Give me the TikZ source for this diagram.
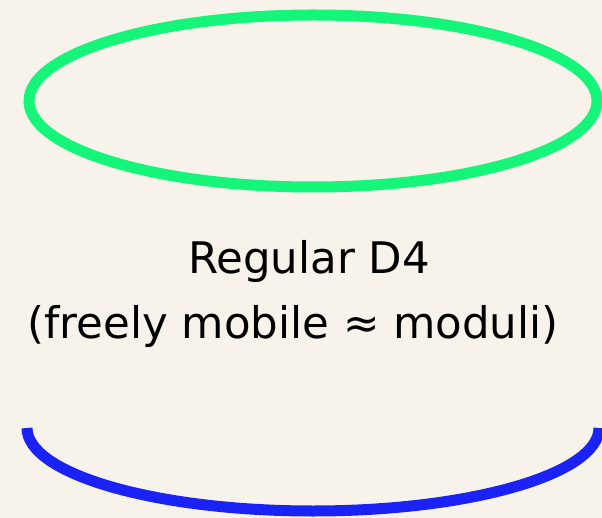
\documentclass[tikz,border=0pt]{standalone}
\usepackage{fontspec}
\setmainfont{DejaVu Sans}
\definecolor{bgc}{HTML}{F7F3EA}
\definecolor{topc}{HTML}{14F57A}
\definecolor{botc}{HTML}{1A22F5}
\begin{document}
\begin{tikzpicture}[x=1pt,y=-1pt,
  rim/.style={line width=11pt},
  lbl/.style={anchor=base,inner sep=0pt,font=\fontsize{43.5}{52}\selectfont}]
\fill[bgc] (0,0) rectangle (602,518);
\useasboundingbox (0,0) rectangle (602,518);
\draw[rim,topc] (313,101) ellipse [x radius=284, y radius=86];
\draw[rim,botc] (27,428) arc[start angle=180, end angle=360, x radius=286, y radius=-83];
\node[lbl] (t1) at (309,274) {Regular D4};
\node[lbl] (t2) at (293,338) {(freely mobile ≈ moduli)};
\end{tikzpicture}
\end{document}
